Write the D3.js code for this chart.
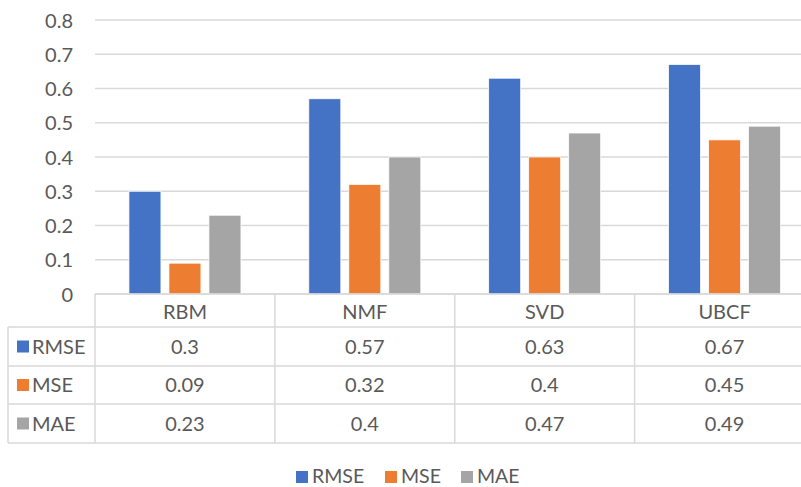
<!DOCTYPE html>
<html>
<head>
<meta charset="utf-8">
<script src="https://cdn.jsdelivr.net/npm/d3@7"></script>
<style>
  html, body { margin: 0; padding: 0; background: #ffffff; }
  svg { display: block; }
  text { font-family: Lato, "Open Sans", sans-serif; fill: #595959; }
</style>
</head>
<body>
<svg id="chart" width="801" height="487"></svg>
<script>
const categories = ["RBM", "NMF", "SVD", "UBCF"];
const seriesNames = ["RMSE", "MSE", "MAE"];
const rmseValues = [0.3, 0.57, 0.63, 0.67];
const mseValues = [0.09, 0.32, 0.4, 0.45];
const maeValues = [0.23, 0.4, 0.47, 0.49];
const yTicks = [0, 0.1, 0.2, 0.3, 0.4, 0.5, 0.6, 0.7, 0.8];
const colors = ["#4472C4", "#ED7D31", "#A5A5A5"];

const seriesValues = [rmseValues, mseValues, maeValues];
const series = seriesNames.map((name, i) => ({ name, values: seriesValues[i], color: colors[i] }));

const svg = d3.select("#chart");
const W = 801, H = 487;
const plotLeft = 95, plotRight = 814.5, plotTop = 20, plotBottom = 294;
const gridColor = "#D9D9D9";
const fontSize = 20;

const x = d3.scaleBand().domain(categories).range([plotLeft, plotRight]);
const xs = d3.scaleBand().domain(seriesNames).range([-56, 56]).paddingInner(0.2).paddingOuter(0);
const y = d3.scaleLinear().domain([0, 0.8]).range([plotBottom, plotTop]);

// gridlines
svg.append("g").selectAll("line").data(yTicks).join("line")
  .attr("x1", plotLeft).attr("x2", W)
  .attr("y1", d => y(d)).attr("y2", d => y(d))
  .attr("stroke", gridColor).attr("stroke-width", 1.5);

// y axis labels
const yAxis = d3.axisLeft(y).tickValues(yTicks).tickSize(0).tickPadding(0)
  .tickFormat(d => d === 0 ? "0" : d3.format(".1f")(d));
const yg = svg.append("g").attr("transform", `translate(73,0)`).call(yAxis);
yg.select(".domain").remove();
yg.selectAll("text").attr("font-size", fontSize).attr("font-family", "Lato, sans-serif").attr("fill", "#595959").attr("dy", "0.35em");

// bars
const groups = svg.append("g").selectAll("g").data(series).join("g").attr("fill", d => d.color);
groups.selectAll("rect").data(s => s.values.map((v, i) => ({ s: s.name, c: categories[i], v })))
  .join("rect")
  .attr("x", d => x(d.c) + x.bandwidth() / 2 + xs(d.s))
  .attr("width", xs.bandwidth())
  .attr("y", d => y(d.v))
  .attr("height", d => y(0) - y(d.v))
  .attr("stroke", "#ffffff").attr("stroke-width", 0.75);

// data table
const tableLeft = 8;
const rowTops = [294, 327, 366, 404, 443];
const tbl = svg.append("g");
tbl.append("line").attr("x1", plotLeft).attr("x2", W).attr("y1", rowTops[0]).attr("y2", rowTops[0])
  .attr("stroke", gridColor).attr("stroke-width", 1.5);
tbl.selectAll("line.h").data(rowTops.slice(1)).join("line").attr("class", "h")
  .attr("x1", tableLeft).attr("x2", W).attr("y1", d => d).attr("y2", d => d)
  .attr("stroke", gridColor).attr("stroke-width", 1.5);
const vx = categories.map(c => x(c)).concat([x(categories[categories.length - 1]) + x.bandwidth()]);
tbl.selectAll("line.v").data(vx).join("line").attr("class", "v")
  .attr("x1", d => d).attr("x2", d => d).attr("y1", rowTops[0]).attr("y2", rowTops[4])
  .attr("stroke", gridColor).attr("stroke-width", 1.5);
tbl.append("line").attr("x1", tableLeft).attr("x2", tableLeft).attr("y1", rowTops[1]).attr("y2", rowTops[4])
  .attr("stroke", gridColor).attr("stroke-width", 1.5);

// category labels
tbl.selectAll("text.cat").data(categories).join("text").attr("class", "cat")
  .attr("x", d => x(d) + x.bandwidth() / 2).attr("y", (rowTops[0] + rowTops[1]) / 2 + 1)
  .attr("text-anchor", "middle").attr("dy", "0.35em").attr("font-size", fontSize).text(d => d);

// row headers & values
series.forEach((s, r) => {
  const cy = (rowTops[r + 1] + rowTops[r + 2]) / 2;
  tbl.append("rect").attr("x", 17).attr("y", cy - 6).attr("width", 12).attr("height", 12).attr("fill", s.color);
  tbl.append("text").attr("x", 32).attr("y", cy).attr("dy", "0.35em").attr("font-size", fontSize).text(s.name);
  tbl.selectAll(null).data(s.values).join("text")
    .attr("x", (d, i) => x(categories[i]) + x.bandwidth() / 2).attr("y", cy)
    .attr("text-anchor", "middle").attr("dy", "0.35em").attr("font-size", fontSize)
    .text(d => String(d));
});

// bottom legend
const legendX = [296, 385, 461];
const lg = svg.append("g");
series.forEach((s, i) => {
  lg.append("rect").attr("x", legendX[i]).attr("y", 471).attr("width", 12).attr("height", 12).attr("fill", s.color);
  lg.append("text").attr("x", legendX[i] + 16).attr("y", 483).attr("font-size", 19.5).text(s.name);
});
</script>
</body>
</html>
